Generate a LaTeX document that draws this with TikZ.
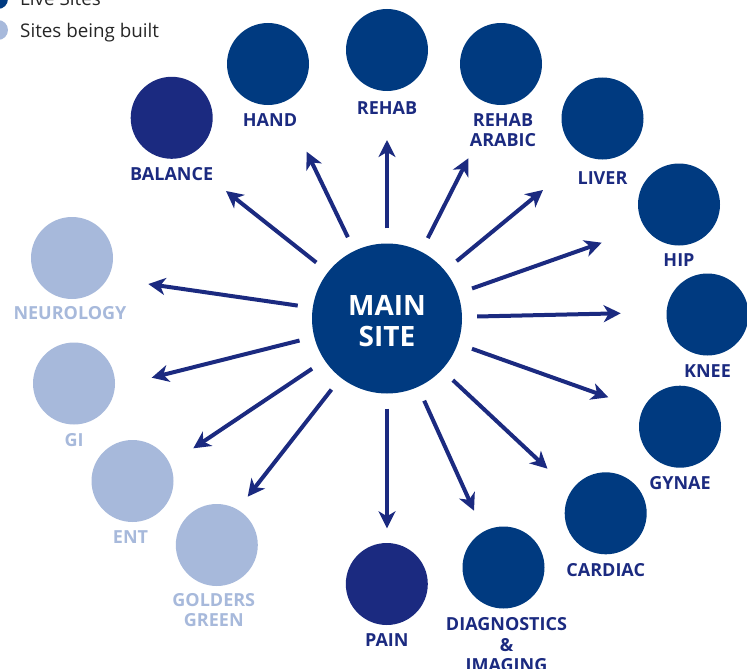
\documentclass[tikz,border=0pt]{standalone}
\usepackage{fontspec}
\setmainfont{Open Sans}
\usetikzlibrary{positioning,arrows.meta}
\definecolor{livecolor}{RGB}{0,58,128}
\definecolor{navycolor}{RGB}{27,42,128}
\definecolor{buildcolor}{RGB}{167,185,219}
\tikzset{
  site/.style={circle, inner sep=0pt, minimum size=82pt, fill=livecolor},
  oldsite/.style={site, fill=navycolor},
  newsite/.style={site, fill=buildcolor},
  sitename/.style={inner sep=0pt, align=center, text=navycolor, font=\bfseries\fontsize{18}{20.5}\selectfont},
  newname/.style={sitename, text=buildcolor},
  legendtxt/.style={inner sep=0pt, anchor=base west, text=black!85, font=\fontsize{18.8}{22}\selectfont},
  spoke/.style={draw=navycolor, line width=4pt, shorten <=15pt, -{Stealth[length=17pt,width=17pt,inset=5pt]}},
}
\begin{document}
\begin{tikzpicture}[x=1pt,y=-1pt]
    \useasboundingbox (0,0) rectangle (747,669);

    % legend
    \node[site, minimum size=20pt] (live-dot) at (-2,-1) {};
    \node[legendtxt] (live-txt) at (20,5.5) {Live Sites};
    \node[newsite, minimum size=20pt] (built-dot) at (-2,30) {};
    \node[legendtxt] (built-txt) at (20,37.7) {Sites being built};

    \node[site, minimum size=150pt] (main) at (387,318.5) {};
    \node[inner sep=0pt, text=white, align=center, font=\bfseries\fontsize{28}{31.7}\selectfont] (main-txt) at ([yshift=-2.5pt]main.center) {MAIN\\SITE};

    \node[oldsite] (balance) at (171.7,117.8) {};
    \node[site] (hand) at (268,64) {};
    \node[site] (rehab) at (387,50) {};
    \node[site] (arabic) at (501,64) {};
    \node[site] (liver) at (602.5,118.5) {};
    \node[site] (hip) at (679,204.5) {};
    \node[site] (knee) at (707.5,314.5) {};
    \node[site] (gynae) at (680,426.7) {};
    \node[site] (cardiac) at (605.7,513.3) {};
    \node[site] (diag) at (503.5,567.5) {};
    \node[oldsite] (pain) at (386.8,584) {};
    \node[newsite] (golders) at (216.8,545) {};
    \node[newsite] (ent) at (132.5,481) {};
    \node[newsite] (gi) at (74,383.5) {};
    \node[newsite] (neuro) at (72,258) {};

    \node[sitename, below=8pt of balance] (balance-txt) {BALANCE};
    \node[sitename, below=8pt of hand, xshift=2pt] (hand-txt) {HAND};
    \node[sitename, below=10pt of rehab] (rehab-txt) {REHAB};
    \node[sitename, below=8pt of arabic, xshift=2pt] (arabic-txt) {REHAB\\ARABIC};
    \node[sitename, below=12pt of liver] (liver-txt) {LIVER};
    \node[sitename, below=8pt of hip] (hip-txt) {HIP};
    \node[sitename, below=9pt of knee] (knee-txt) {KNEE};
    \node[sitename, below=8pt of gynae] (gynae-txt) {GYNAE};
    \node[sitename, below=9pt of cardiac] (cardiac-txt) {CARDIAC};
    \node[sitename, below=9pt of diag, xshift=3pt] (diag-txt) {DIAGNOSTICS\\\&\\IMAGING};
    \node[sitename, below=8pt of pain] (pain-txt) {PAIN};
    \node[newname, below=7pt of golders, xshift=-3pt] (golders-txt) {GOLDERS\\GREEN};
    \node[newname, below=8pt of ent, xshift=-2pt] (ent-txt) {ENT};
    \node[newname, below=9pt of gi] (gi-txt) {GI};
    \node[newname, below=7pt of neuro, xshift=-2pt] (neuro-txt) {NEUROLOGY};

    % arrow tips
    \coordinate (balance-tip) at (226,191);
    \coordinate (hand-tip) at (306.7,151.7);
    \coordinate (rehab-tip) at (387,140);
    \coordinate (arabic-tip) at (468.3,158.3);
    \coordinate (liver-tip) at (543,190);
    \coordinate (hip-tip) at (601.7,242.7);
    \coordinate (knee-tip) at (620.7,313.3);
    \coordinate (gynae-tip) at (608.3,397.3);
    \coordinate (cardiac-tip) at (547.5,468.7);
    \coordinate (diag-tip) at (474,510.7);
    \coordinate (pain-tip) at (387,528.3);
    \coordinate (golders-tip) at (247.7,496.7);
    \coordinate (ent-tip) at (193.3,448.3);
    \coordinate (gi-tip) at (151.7,377.7);
    \coordinate (neuro-tip) at (148.3,284);

    \draw[spoke] (main) -- (balance-tip);
    \draw[spoke] (main) -- (hand-tip);
    \draw[spoke] (main) -- (rehab-tip);
    \draw[spoke] (main) -- (arabic-tip);
    \draw[spoke] (main) -- (liver-tip);
    \draw[spoke] (main) -- (hip-tip);
    \draw[spoke] (main) -- (knee-tip);
    \draw[spoke] (main) -- (gynae-tip);
    \draw[spoke] (main) -- (cardiac-tip);
    \draw[spoke] (main) -- (diag-tip);
    \draw[spoke] (main) -- (pain-tip);
    \draw[spoke] (main) -- (golders-tip);
    \draw[spoke] (main) -- (ent-tip);
    \draw[spoke] (main) -- (gi-tip);
    \draw[spoke] (main) -- (neuro-tip);
\end{tikzpicture}
\end{document}
